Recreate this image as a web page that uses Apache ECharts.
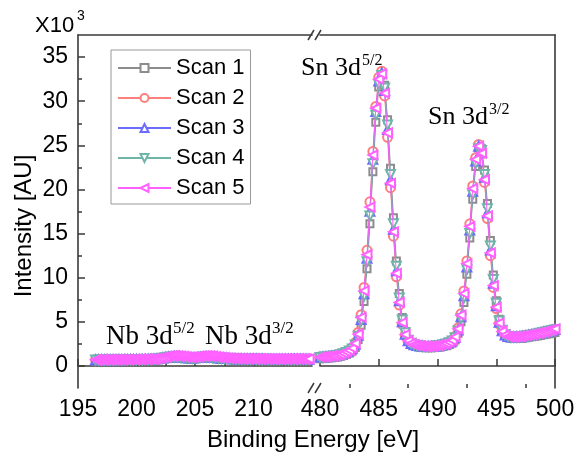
<!DOCTYPE html>
<html><head><meta charset="utf-8">
<script src="https://cdn.jsdelivr.net/npm/echarts@6/dist/echarts.min.js"></script>
<style>html,body{margin:0;padding:0;background:#fff}#c{width:576px;height:458px}</style>
</head><body><div id="c"></div>
<script>
// ---------- DATA ----------
const scanNames = ['Scan 1', 'Scan 2', 'Scan 3', 'Scan 4', 'Scan 5'];

const energyLow = [196.5,196.75,197,197.25,197.5,197.75,198,198.25,198.5,198.75,199,199.25,199.5,199.75,200,200.25,200.5,200.75,201,201.25,201.5,
  201.75,202,202.25,202.5,202.75,203,203.25,203.5,203.75,204,204.25,204.5,204.75,205,205.25,205.5,205.75,206,206.25,206.5,206.75,207,207.25,207.5,207.75,208,208.25,208.5,208.75,209,
  209.25,209.5,209.75,210,210.25,210.5,210.75,211,211.25,211.5,211.75,212,212.25,212.5,212.75,213,213.25,213.5,213.75,214,214.25,214.5,214.75];

const energyHigh = [480,480.25,480.5,480.75,481,481.25,481.5,481.75,482,482.25,482.5,482.75,483,483.25,483.5,483.75,484,484.25,484.5,484.75,
  485,485.25,485.5,485.75,486,486.25,486.5,486.75,487,487.25,487.5,487.75,488,488.25,488.5,488.75,489,489.25,489.5,489.75,
  490,490.25,490.5,490.75,491,491.25,491.5,491.75,492,492.25,492.5,492.75,493,493.25,493.5,493.75,494,494.25,494.5,494.75,
  495,495.25,495.5,495.75,496,496.25,496.5,496.75,497,497.25,497.5,497.75,498,498.25,498.5,498.75,499,499.25,499.5,499.75,500];

// intensities (x10^3) — Nb 3d region
const scan1Low = [0.60,0.61,0.60,0.61,0.61,0.62,0.61,0.62,0.62,0.63,0.62,0.63,0.63,0.64,0.63,0.64,0.65,0.65,0.66,0.67,0.68,
  0.70,0.73,0.77,0.82,0.86,0.89,0.90,0.89,0.87,0.84,0.81,0.79,0.78,0.80,0.83,0.86,0.89,0.90,0.88,0.86,0.83,0.80,0.77,0.75,0.73,0.72,0.71,0.70,0.70,0.69,
  0.69,0.69,0.68,0.68,0.68,0.68,0.67,0.68,0.67,0.67,0.67,0.67,0.66,0.67,0.66,0.66,0.67,0.66,0.66,0.66,0.67,0.66,0.66];
const scan2Low = [0.68,0.69,0.68,0.69,0.69,0.70,0.69,0.70,0.70,0.71,0.70,0.71,0.71,0.72,0.72,0.72,0.73,0.74,0.74,0.75,0.77,
  0.79,0.83,0.88,0.94,0.99,1.02,1.03,1.02,0.99,0.96,0.92,0.90,0.89,0.91,0.94,0.98,1.01,1.02,1.00,0.97,0.93,0.89,0.86,0.84,0.82,0.80,0.79,0.78,0.78,0.77,
  0.77,0.77,0.76,0.76,0.76,0.76,0.75,0.76,0.75,0.75,0.75,0.75,0.75,0.74,0.75,0.74,0.75,0.75,0.74,0.75,0.75,0.74,0.75];
const scan3Low = [0.69,0.70,0.70,0.70,0.71,0.70,0.71,0.71,0.72,0.71,0.72,0.72,0.73,0.72,0.73,0.74,0.74,0.75,0.76,0.77,0.78,
  0.81,0.85,0.91,0.97,1.02,1.05,1.06,1.05,1.02,0.98,0.94,0.92,0.91,0.93,0.96,1.00,1.03,1.04,1.02,0.99,0.95,0.91,0.88,0.86,0.84,0.82,0.81,0.80,0.79,0.79,
  0.79,0.78,0.78,0.78,0.78,0.77,0.78,0.77,0.77,0.77,0.77,0.77,0.76,0.77,0.76,0.77,0.77,0.76,0.77,0.77,0.76,0.77,0.77];
const scan4Low = [0.66,0.67,0.67,0.67,0.68,0.67,0.68,0.68,0.69,0.68,0.69,0.69,0.70,0.70,0.70,0.71,0.71,0.72,0.73,0.74,0.75,
  0.78,0.82,0.87,0.93,0.98,1.01,1.02,1.01,0.98,0.95,0.91,0.89,0.88,0.90,0.93,0.97,1.00,1.01,0.99,0.96,0.92,0.88,0.85,0.83,0.81,0.79,0.78,0.77,0.77,0.76,
  0.76,0.76,0.75,0.75,0.75,0.75,0.74,0.75,0.74,0.74,0.74,0.74,0.74,0.73,0.74,0.73,0.74,0.74,0.73,0.74,0.74,0.73,0.74];
const scan5Low = [0.70,0.70,0.71,0.70,0.71,0.71,0.72,0.71,0.72,0.72,0.73,0.72,0.73,0.73,0.74,0.74,0.75,0.76,0.77,0.78,0.80,
  0.83,0.88,0.95,1.03,1.10,1.14,1.16,1.15,1.12,1.08,1.03,1.00,0.99,1.01,1.05,1.10,1.14,1.15,1.13,1.10,1.05,1.00,0.96,0.93,0.90,0.88,0.86,0.85,0.84,0.83,
  0.83,0.82,0.82,0.82,0.81,0.81,0.81,0.81,0.80,0.80,0.80,0.80,0.80,0.80,0.79,0.79,0.80,0.80,0.80,0.79,0.80,0.80,0.80];

// intensities (x10^3) — Sn 3d region
const scan1High = [0.82,0.84,0.86,0.89,0.93,0.97,1.02,1.09,1.19,1.32,1.48,1.7,2.1,
  3.0,4.6,7.3,11.0,16.1,22.0,27.6,31.6,33.0,
  31.8,27.9,22.4,16.8,11.9,8.2,5.5,3.9,2.95,2.55,2.35,2.22,2.15,2.1,2.07,2.05,2.06,2.08,
  2.12,2.16,2.22,2.3,2.42,2.6,2.95,3.7,5.0,7.2,10.4,14.5,18.9,22.6,24.7,24.6,22.2,18.4,14.2,10.3,
  7.4,5.3,4.1,3.5,3.25,3.15,3.1,3.1,3.12,3.15,3.2,3.25,3.3,3.35,3.4,3.46,3.52,3.58,3.64,3.7,
  3.78];
const scan2High = [0.98,1.0,1.03,1.06,1.1,1.15,1.21,1.3,1.44,1.6,1.8,2.08,2.65,
  3.8,5.8,8.9,13.1,18.6,24.3,29.4,32.7,33.4,
  30.6,25.9,20.2,14.7,10.1,6.9,4.7,3.45,2.8,2.52,2.38,2.3,2.25,2.22,2.21,2.21,2.23,2.26,
  2.32,2.37,2.45,2.56,2.7,2.92,3.35,4.3,5.9,8.5,11.9,16.1,20.4,23.6,25.1,24.0,20.8,16.7,12.5,8.9,
  6.5,4.75,3.88,3.45,3.3,3.27,3.27,3.3,3.33,3.38,3.44,3.5,3.56,3.62,3.7,3.77,3.84,3.92,4.0,4.08,
  4.17];
const scan3High = [1.00,1.02,1.05,1.08,1.12,1.17,1.22,1.30,1.42,1.56,1.73,1.97,2.46,
  3.47,5.27,8.18,12.21,17.52,23.43,28.83,32.3,33.2,
  31.2,26.8,21.1,15.5,10.8,7.4,5.0,3.6,2.85,2.55,2.4,2.32,2.26,2.22,2.2,2.2,2.21,2.24,
  2.3,2.35,2.42,2.52,2.65,2.85,3.24,4.08,5.56,7.94,11.22,15.39,19.79,23.22,24.9,24.25,21.39,17.37,13.15,9.37,
  6.83,4.96,3.98,3.5,3.33,3.29,3.27,3.3,3.32,3.37,3.43,3.48,3.54,3.6,3.68,3.74,3.81,3.88,3.96,4.04,
  4.13];
const scan4High = [0.97,0.99,1.02,1.05,1.09,1.14,1.19,1.27,1.38,1.52,1.68,1.92,2.38,
  3.35,5.1,7.9,11.8,17.0,22.9,28.4,31.9,32.9,
  31.5,27.3,21.7,16.1,11.3,7.7,5.2,3.75,2.9,2.56,2.4,2.31,2.25,2.21,2.19,2.19,2.2,2.23,
  2.28,2.33,2.4,2.5,2.63,2.82,3.18,3.95,5.35,7.7,10.9,15.0,19.4,22.9,24.6,24.4,21.7,17.8,13.6,9.8,
  7.1,5.1,4.05,3.52,3.32,3.26,3.24,3.26,3.28,3.33,3.38,3.43,3.49,3.55,3.62,3.69,3.76,3.84,3.92,4.0,
  4.08];
const scan5High = [1.01,1.03,1.06,1.09,1.13,1.18,1.24,1.32,1.45,1.6,1.77,2.02,2.55,
  3.6,5.5,8.5,12.6,18.0,23.9,29.2,32.5,33.1,
  30.9,26.4,20.7,15.2,10.5,7.2,4.9,3.55,2.85,2.55,2.4,2.32,2.27,2.23,2.22,2.22,2.24,2.27,
  2.33,2.38,2.46,2.56,2.7,2.9,3.3,4.2,5.75,8.2,11.6,15.8,20.1,23.4,24.9,24.1,21.1,17.0,12.8,9.1,
  6.65,4.85,3.92,3.48,3.33,3.3,3.29,3.32,3.35,3.4,3.46,3.52,3.58,3.64,3.71,3.78,3.86,3.94,4.02,4.1,
  4.19];

const xMajorLow = [195, 200, 205, 210];
const xMinorLow = [197.5, 202.5, 207.5, 212.5];
const xMajorHigh = [480, 485, 490, 495, 500];
const xMinorHigh = [482.5, 487.5, 492.5, 497.5];
const yMajor = [0, 5, 10, 15, 20, 25, 30, 35];
const yMinor = [2.5, 7.5, 12.5, 17.5, 22.5, 27.5, 32.5];

// ---------- STYLE ----------
const lowData = [scan1Low, scan2Low, scan3Low, scan4Low, scan5Low];
const highData = [scan1High, scan2High, scan3High, scan4High, scan5High];
const colors = ['#8c8c8c', '#ff7f7f', '#6b6bff', '#6fb5aa', '#ff60ff'];
const symbols = ['emptyRect', 'emptyCircle', 'emptyTriangle', 'emptyTriangle', 'emptyTriangle'];
const symbolSizes = [7, 9, 9, 9, 9];
const symbolRotates = [0, 0, 0, 180, 90];

const SANS = 'Liberation Sans, Arial, sans-serif';
const SERIF = 'Liberation Serif, Times New Roman, serif';
const AX = '#3a3a3a';

function zip(xs, ys) {
  const n = Math.min(xs.length, ys.length);
  const out = [];
  for (let i = 0; i < n; i++) out.push([xs[i], ys[i]]);
  return out;
}

const series = [];
for (let i = 0; i < 5; i++) {
  const common = {
    name: scanNames[i], type: 'line', symbol: symbols[i], symbolSize: symbolSizes[i],
    symbolRotate: symbolRotates[i], showAllSymbol: true,
    lineStyle: { color: colors[i], width: 1 },
    itemStyle: { color: colors[i], borderColor: colors[i], borderWidth: 1 },
    emphasis: { disabled: true }, animation: false, z: 2 + i
  };
  series.push(Object.assign({}, common, { xAxisIndex: 0, yAxisIndex: 0, data: zip(energyLow, lowData[i]) }));
  series.push(Object.assign({}, common, { xAxisIndex: 3, yAxisIndex: 2, data: zip(energyHigh, highData[i]) }));
}

const lbl = { fontFamily: SANS, fontSize: 23, color: '#000' };
const line = { show: true, lineStyle: { color: AX, width: 1.6 } };
const noTick = { show: false };
const noLabel = { show: false };
const noSplit = { show: false };
const tk = { color: AX, width: 1.5 };

const grids = [
  { left: 78, top: 35, width: 234, height: 353, outerBoundsMode: 'none', containLabel: false },
  { left: 320, top: 35, width: 235, height: 353, outerBoundsMode: 'none', containLabel: false }
];

const xAxes = [
  { gridIndex: 0, type: 'value', position: 'bottom', min: 195, max: 215, axisLine: line,
    axisTick: { show: true, inside: true, length: 7, customValues: xMajorLow, lineStyle: tk },
    axisLabel: Object.assign({ customValues: xMajorLow, margin: 10 }, lbl), splitLine: noSplit },
  { gridIndex: 0, type: 'value', position: 'bottom', min: 195, max: 215, axisLine: { show: false },
    axisTick: { show: true, inside: true, length: 4, customValues: xMinorLow, lineStyle: tk },
    axisLabel: noLabel, splitLine: noSplit },
  { gridIndex: 0, type: 'value', position: 'top', min: 195, max: 215, axisLine: line,
    axisTick: noTick, axisLabel: noLabel, splitLine: noSplit },
  { gridIndex: 1, type: 'value', position: 'bottom', min: 480, max: 500, axisLine: line,
    axisTick: { show: true, inside: true, length: 7, customValues: xMajorHigh, lineStyle: tk },
    axisLabel: Object.assign({ customValues: xMajorHigh, margin: 10 }, lbl), splitLine: noSplit },
  { gridIndex: 1, type: 'value', position: 'bottom', min: 480, max: 500, axisLine: { show: false },
    axisTick: { show: true, inside: true, length: 4, customValues: xMinorHigh, lineStyle: tk },
    axisLabel: noLabel, splitLine: noSplit },
  { gridIndex: 1, type: 'value', position: 'top', min: 480, max: 500, axisLine: line,
    axisTick: noTick, axisLabel: noLabel, splitLine: noSplit }
];

const yAxes = [
  { gridIndex: 0, type: 'value', position: 'left', min: -2.5, max: 37.5, axisLine: line,
    axisTick: { show: true, inside: true, length: 7, customValues: yMajor, lineStyle: tk },
    axisLabel: Object.assign({ customValues: yMajor, margin: 10 }, lbl), splitLine: noSplit },
  { gridIndex: 0, type: 'value', position: 'left', min: -2.5, max: 37.5, axisLine: { show: false },
    axisTick: { show: true, inside: true, length: 4, customValues: yMinor, lineStyle: tk },
    axisLabel: noLabel, splitLine: noSplit },
  { gridIndex: 1, type: 'value', position: 'right', min: -2.5, max: 37.5, axisLine: line,
    axisTick: noTick, axisLabel: noLabel, splitLine: noSplit }
];

function txt(x, y, text, size, family) {
  return { type: 'text', x: x, y: y, z: 100, silent: true,
    style: { text: text, fontSize: size, fontFamily: family, fill: '#000', align: 'left', verticalAlign: 'middle' } };
}
function seg(x1, y1, x2, y2) {
  return { type: 'line', z: 100, silent: true, shape: { x1: x1, y1: y1, x2: x2, y2: y2 },
    style: { stroke: AX, lineWidth: 1.5 } };
}

const graphics = [
  txt(35, 26, 'X10', 22, SANS),
  txt(77, 16, '3', 14, SANS),
  txt(301, 68, 'Sn 3d', 26, SERIF),
  txt(362, 61, '5/2', 16, SERIF),
  txt(428, 117, 'Sn 3d', 26, SERIF),
  txt(489, 110, '3/2', 16, SERIF),
  txt(106, 337, 'Nb 3d', 27, SERIF),
  txt(173, 329, '5/2', 17, SERIF),
  txt(205, 337, 'Nb 3d', 27, SERIF),
  txt(272, 329, '3/2', 17, SERIF),
  { type: 'text', x: 313, y: 440, z: 100, silent: true,
    style: { text: 'Binding Energy [eV]', fontSize: 24, fontFamily: SANS, fill: '#000', align: 'center', verticalAlign: 'middle' } },
  { type: 'text', x: 24, y: 226, rotation: Math.PI / 2, z: 100, silent: true,
    style: { text: 'Intensity [AU]', fontSize: 24, fontFamily: SANS, fill: '#000', align: 'center', verticalAlign: 'middle' } },
  seg(308, 393, 314, 383), seg(315, 393, 321, 383),
  seg(308, 40, 314, 30), seg(315, 40, 321, 30)
];

const chart = echarts.init(document.getElementById('c'), null, { renderer: 'canvas' });
chart.setOption({
  backgroundColor: '#fff',
  animation: false,
  grid: grids,
  xAxis: xAxes,
  yAxis: yAxes,
  legend: {
    show: true, orient: 'vertical', left: 111, top: 50,
    data: scanNames,
    itemWidth: 53, itemHeight: 10, itemGap: 8,
    padding: [7, 6, 5, 6],
    borderColor: '#999', borderWidth: 1, backgroundColor: '#fff',
    textStyle: { fontFamily: SANS, fontSize: 22, color: '#000', lineHeight: 21 },
    selectedMode: false
  },
  graphic: graphics,
  series: series
});
</script>
</body></html>
